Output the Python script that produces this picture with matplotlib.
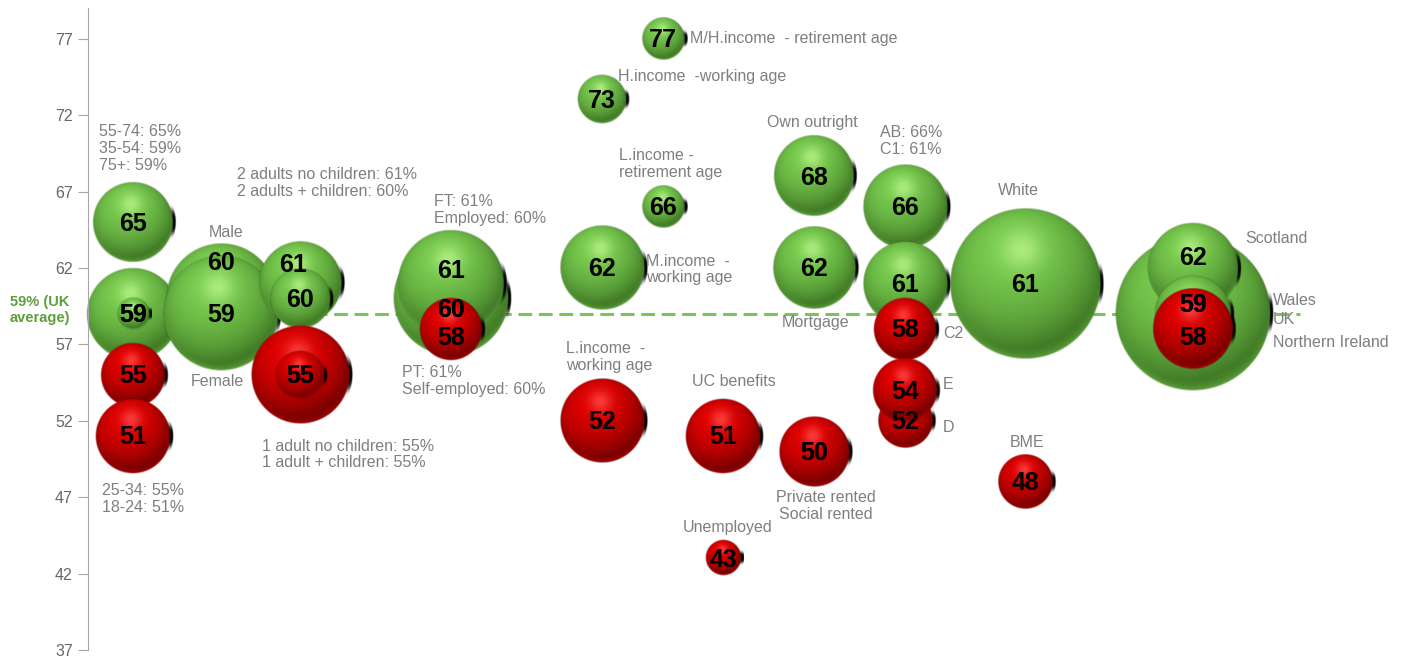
import numpy as np
import matplotlib
matplotlib.use('Agg')
import matplotlib.pyplot as plt

plt.rcParams['font.family'] = ['Liberation Sans', 'DejaVu Sans']

uk_average = 59

# One entry per bubble, in drawing order (later ones sit on top)
names = ['55-74', '35-54', '75+', '25-34', '18-24',
         'Male', 'Female',
         '2 adults no children', '2 adults + children', '1 adult no children', '1 adult + children',
         'Self-employed', 'Employed', 'FT', 'PT',
         'M/H.income - retirement age', 'H.income - working age', 'L.income - retirement age',
         'M.income - working age', 'L.income - working age',
         'UC benefits', 'Unemployed',
         'Own outright', 'Mortgage', 'Social rented', 'Private rented',
         'AB', 'C1', 'C2', 'D', 'E',
         'White', 'BME',
         'UK', 'Scotland', 'Wales', 'Northern Ireland']
values = [65, 59, 59, 55, 51,
          60, 59,
          61, 60, 55, 55,
          60, 60, 61, 58,
          77, 73, 66, 62, 52,
          51, 43,
          68, 62, 50, 50,
          66, 61, 58, 52, 54,
          61, 48,
          59, 62, 59, 58]

# layout: horizontal slot (px from axis), bubble radius (px), value label nudge (px)
slot = [45, 45, 45, 45, 45,
        133, 133,
        212, 212, 212, 212,
        363, 363, 363, 363,
        575, 514, 575, 514, 514,
        635, 635,
        726, 726, 726, 726,
        817, 817, 817, 817, 817,
        937, 937,
        1105, 1105, 1105, 1105]
radius = [40, 46, 16, 32, 37,
          55, 57,
          41, 30, 49, 24,
          45, 57, 53, 31,
          21, 24, 21, 42, 42,
          37, 17.5,
          40, 41, 33, 35,
          42, 42, 31, 27, 32,
          75, 27,
          77, 45, 38, 40]
nudge_y = [0, 0, 0, 0, 0,
           -37, 0,
           -20, 0, 0, 0,
           10, 10, -14, 8,
           0, 0, 0, 0, 0,
           0, 0,
           0, 0, 0, 0,
           0, 0, 0, 0, 0,
           0, 0,
           -10, -11, -10, 8]
nudge_x = [0] * len(values)
nudge_x[7] = -7

# group captions: text, x (px from axis), y (value), alignment
captions = [
    ('55-74: 65%\n35-54: 59%\n75+: 59%', 11, 69.8, 'left'),
    ('25-34: 55%\n18-24: 51%', 14, 46.9, 'left'),
    ('Male', 138, 64.3, 'center'),
    ('Female', 129, 54.55, 'center'),
    ('2 adults no children: 61%\n2 adults + children: 60%', 149, 67.55, 'left'),
    ('1 adult no children: 55%\n1 adult + children: 55%', 174, 49.8, 'left'),
    ('FT: 61%\nEmployed: 60%', 346, 65.8, 'left'),
    ('PT: 61%\nSelf-employed: 60%', 314, 54.6, 'left'),
    ('M/H.income  - retirement age', 602, 77.0, 'left'),
    ('H.income  -working age', 530, 74.5, 'left'),
    ('L.income -\nretirement age', 531, 68.8, 'left'),
    ('M.income  -\nworking age', 558, 61.9, 'left'),
    ('L.income  -\nworking age', 478, 56.2, 'left'),
    ('UC benefits', 646, 54.55, 'center'),
    ('Unemployed', 640, 45.0, 'center'),
    ('Private rented\nSocial rented', 738, 46.4, 'center'),
    ('Own outright', 724, 71.55, 'center'),
    ('Mortgage', 728, 58.4, 'center'),
    ('AB: 66%\nC1: 61%', 792, 70.3, 'left'),
    ('C2', 855, 57.7, 'left'),
    ('E', 855, 54.4, 'left'),
    ('D', 855, 51.55, 'left'),
    ('White', 930, 67.05, 'center'),
    ('BME', 939, 50.6, 'center'),
    ('Scotland', 1157, 63.9, 'left'),
    ('Wales', 1185, 59.85, 'left'),
    ('UK', 1185, 58.6, 'left'),
    ('Northern Ireland', 1185, 57.15, 'left'),
]

GREEN = dict(base=np.array([0.46, 0.78, 0.30]), dark=np.array([0.16, 0.34, 0.08]),
             light=np.array([0.72, 0.95, 0.54]))
RED = dict(base=np.array([0.86, 0.0, 0.0]), dark=np.array([0.30, 0.0, 0.0]),
           light=np.array([1.0, 0.28, 0.28]))


def sphere_rgba(pal, r):
    """Shaded ball as an RGBA array, spanning +-1.15 radii."""
    span = 1.15
    n = max(int(r * 2 * span * 2), 24)
    t = np.linspace(-span, span, n)
    u, v = np.meshgrid(t, -t)
    d = np.hypot(u, v)
    nz = np.sqrt(np.clip(1 - d ** 2, 0, 1))
    lx, ly, lz = -0.2, 0.5, 0.85
    ln = np.sqrt(lx ** 2 + ly ** 2 + lz ** 2)
    diff = np.clip((u * lx + v * ly + nz * lz) / ln, 0, 1)
    shade = 0.30 + 0.75 * diff
    col = pal['dark'] + (pal['base'] - pal['dark']) * np.clip(shade, 0, 1.05)[..., None]
    spec = np.exp(-((u + 0.05) ** 2 + (v - 0.45) ** 2) / 0.07)
    col = col + (pal['light'] - col) * (0.8 * spec)[..., None]
    rim = np.exp(-(1 - np.clip(d, 0, 1)) / 0.06) * np.clip(-v + 0.2, 0, 1)
    col = col + (pal['base'] - col) * (0.55 * rim)[..., None]
    col = np.clip(col, 0, 1)
    a_main = np.clip(0.5 + (1 - d) * r, 0, 1)
    # thin black sliver peeking out on the right hand side
    shift = 3.0 / r
    ds = np.hypot(u - shift, v)
    half = min(0.32 * r, 16) / r
    a_sh = np.clip(0.5 + (1 - ds) * r, 0, 1) * np.exp(-(v / half) ** 4)
    a_out = a_main + a_sh * (1 - a_main)
    rgb = col * a_main[..., None] / np.maximum(a_out, 1e-6)[..., None]
    rgba = np.dstack([rgb, a_out])
    return rgba, span


fig = plt.figure(figsize=(14.1, 6.56), dpi=100)
ax = fig.add_axes([88 / 1410, 6 / 656, 1322 / 1410, 641.8 / 656])
ax.set_xlim(0, 1322)
ax.set_ylim(37, 79)

# px per value unit, to keep bubbles round
px_per_unit = 641.8 / 42

ax.plot([0, 1212], [uk_average, uk_average], color='#7cc35a', lw=2.2,
        ls=(0, (4.5, 2.2)), zorder=1)

for i, (x, val, r) in enumerate(zip(slot, values, radius)):
    pal = GREEN if val >= uk_average else RED
    img, span = sphere_rgba(pal, r)
    ry = r * span / px_per_unit
    rx = r * span
    ax.imshow(img, extent=(x - rx, x + rx, val - ry, val + ry), aspect='auto',
              interpolation='bilinear', zorder=2 + i * 0.01, clip_on=False)

k = 72 / 100
for x, val, dx, dy in zip(slot, values, nudge_x, nudge_y):
    ax.annotate(str(val), (x, val), xytext=(dx * k, -dy * k - 1), textcoords='offset points',
                ha='center', va='center', fontsize=18, fontweight='bold', color='black',
                zorder=10)

for text, x, y, ha in captions:
    ax.text(x, y, text, ha=ha, va='center', fontsize=11.5, color='#7f7f7f',
            linespacing=1.15, zorder=11)

ax.text(-48, 59.25, '59% (UK\naverage)', ha='center', va='center', fontsize=10.5,
        fontweight='bold', color='#5e9e3c', linespacing=1.2)

ax.set_yticks(np.arange(37, 78, 5))
ax.set_xticks([])
ax.tick_params(axis='y', length=7, width=0.8, color='#a6a6a6', labelsize=11.5,
               labelcolor='#666666', pad=4)
for side in ['top', 'right', 'bottom']:
    ax.spines[side].set_visible(False)
ax.spines['left'].set_color('#a6a6a6')
ax.spines['left'].set_linewidth(0.8)
ax.patch.set_alpha(0)

fig.savefig('out.png', dpi=100)
